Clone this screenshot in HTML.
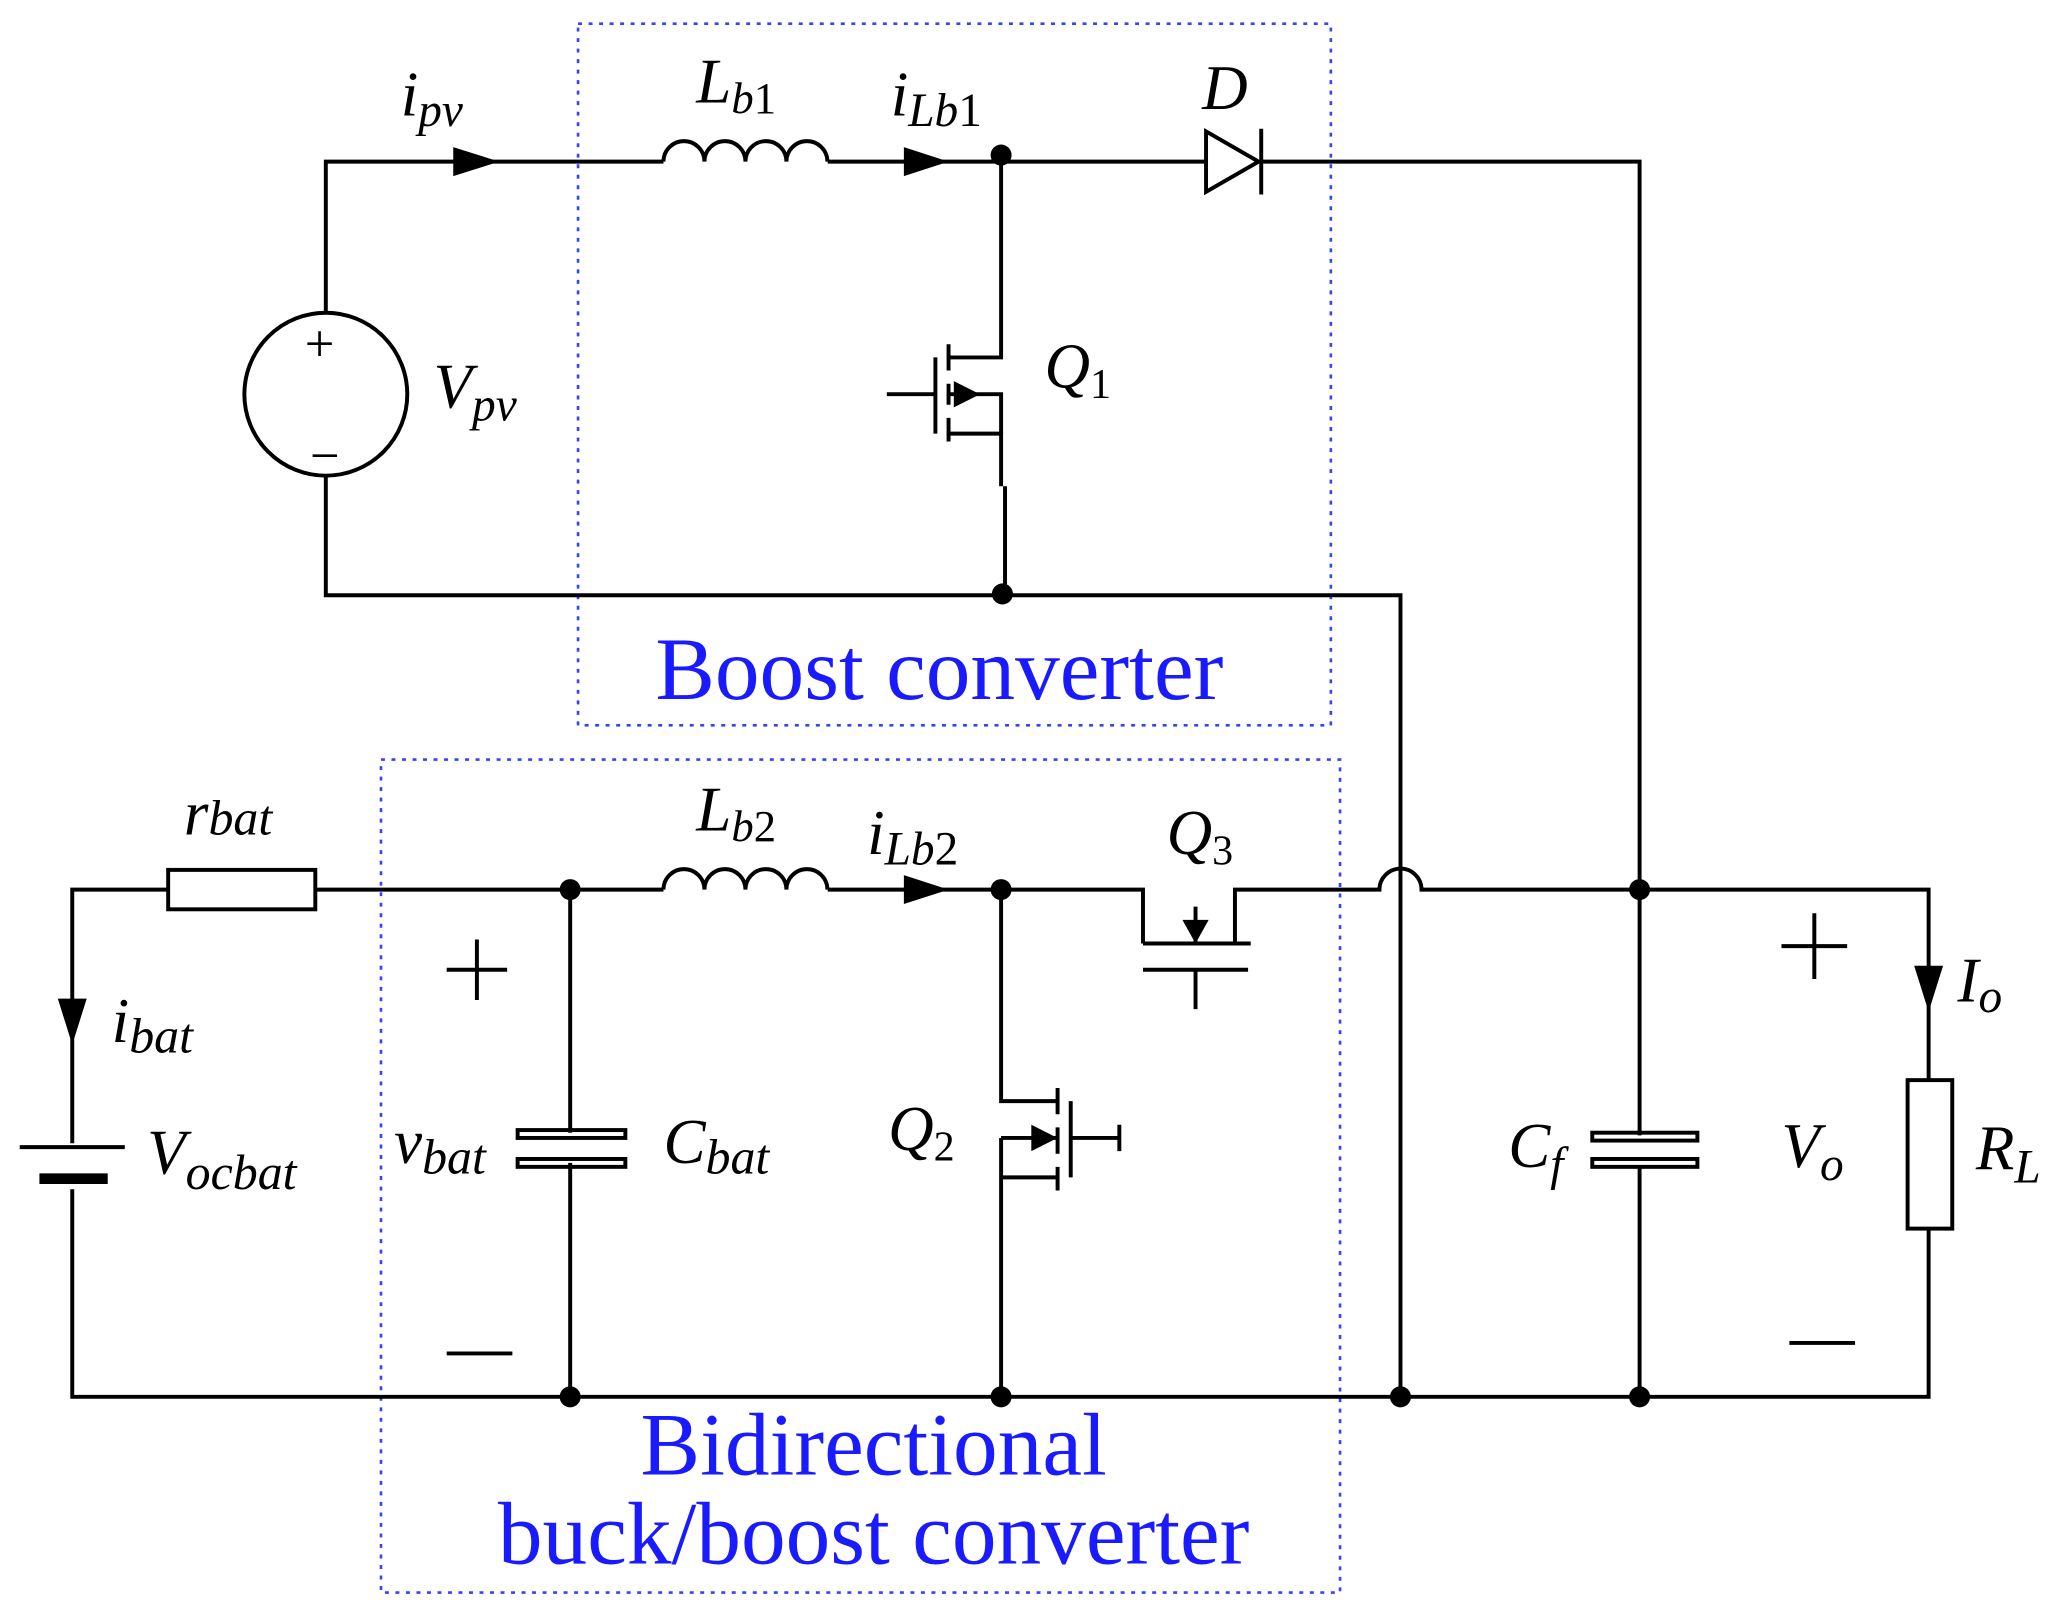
<!DOCTYPE html>
<html><head><meta charset="utf-8"><style>
html,body{margin:0;padding:0;background:#fff;}
svg{display:block;}
text{font-family:"Liberation Serif",serif;font-style:italic;fill:#000;}
.b{font-style:normal;fill:#1a1aff;}
</style></head><body>
<svg width="2060" height="1611" viewBox="0 0 1568 1226" preserveAspectRatio="none" xmlns="http://www.w3.org/2000/svg">
<g fill="none" stroke="#000" stroke-width="3">
<rect x="440" y="18" width="573" height="534" stroke="#3344ff" stroke-width="2" stroke-dasharray="3,5"/>
<rect x="290" y="578" width="730" height="634" stroke="#3344ff" stroke-width="2" stroke-dasharray="3,5"/>
<path d="M248 238 V123 H505"/>
<path d="M505 123 a15.6 15.6 0 0 1 31.2 0 a15.6 15.6 0 0 1 31.2 0 a15.6 15.6 0 0 1 31.2 0 a15.6 15.6 0 0 1 31.2 0"/>
<path d="M630 123 H918 M960 123 H1248 V677"/>
<path d="M918 100 V146 L958 123 Z"/><path d="M960 98 V148"/>
<circle cx="248" cy="300" r="62"/>
<path d="M248 362 V453 H1066 V1063"/>
<path d="M762 118 V272 H722 M722 262 V282 M722 292 V308 M722 318 V336 M722 330 H762 V370 M765 370 V452"/>
<path d="M722 300 H762 V330"/>
<path d="M712 272 V330 M675 300 H712"/>
<path d="M55 870 V677 H128 M240 677 H505"/>
<rect x="128" y="662" width="112" height="30"/>
<path d="M505 677 a15.6 15.6 0 0 1 31.2 0 a15.6 15.6 0 0 1 31.2 0 a15.6 15.6 0 0 1 31.2 0 a15.6 15.6 0 0 1 31.2 0"/>
<path d="M630 677 H870 V718 M940 718 V677 H1050 a16 16 0 0 1 32 0 H1468 V822"/>
<path d="M870 718 H952"/>
<path d="M910 690 V718 M870 738 H950 M910 738 V768"/>
<path d="M15 873 H95" />
<path d="M30 897 H82" stroke-width="8"/>
<path d="M55 905 V1063 H1468 V935"/>
<rect x="1452" y="822" width="34" height="113"/>
<path d="M434 677 V862 M434 885 V1063"/>
<rect x="394" y="860" width="82" height="6"/><rect x="394" y="882" width="82" height="6"/>
<path d="M1248 677 V864 M1248 887 V1063"/>
<rect x="1212" y="862" width="80" height="6"/><rect x="1212" y="882" width="80" height="6"/>
<path d="M762 677 V838 H805 M805 828 V848 M805 858 V878 M805 888 V906 M762 1063 V896 H805 M762 866 H805 M762 866 V896"/>
<path d="M815 838 V896 M815 866 H852 M852 856 V876"/>
</g>
<g fill="#000">
<circle cx="762" cy="118" r="8"/><circle cx="763" cy="452" r="8"/>
<circle cx="434" cy="677" r="8"/><circle cx="762" cy="677" r="8"/><circle cx="1248" cy="677" r="8"/>
<circle cx="434" cy="1063" r="8"/><circle cx="762" cy="1063" r="8"/><circle cx="1066" cy="1063" r="8"/><circle cx="1248" cy="1063" r="8"/>
<path d="M345 112 L380 123 L345 134 Z"/>
<path d="M688 112 L722 123 L688 134 Z"/>
<path d="M688 666 L722 677 L688 688 Z"/>
<path d="M44 760 L55 795 L66 760 Z"/>
<path d="M1457 735 L1468 770 L1479 735 Z"/>
<path d="M726 290 L746 300 L726 310 Z"/>
<path d="M900 700 L910 718 L920 700 Z"/>
<path d="M785 856 L805 866 L785 876 Z"/>
</g>
<g font-size="48">
<text x="305" y="88">i<tspan font-size="36" dy="8">pv</tspan></text>
<text x="530" y="78">L<tspan font-size="34" dy="8">b</tspan><tspan font-style="normal" font-size="34">1</tspan></text>
<text x="678" y="88">i<tspan font-size="36" dy="8">Lb</tspan><tspan font-style="normal" font-size="36">1</tspan></text>
<text x="915" y="83">D</text>
<text x="795" y="295">Q<tspan font-style="normal" font-size="32" dy="8">1</tspan></text>
<text x="330" y="310">V<tspan font-size="36" dy="10">pv</tspan></text>
<text x="140" y="635">r<tspan font-size="38" dy="0">bat</tspan></text>
<text x="530" y="632">L<tspan font-size="34" dy="8">b</tspan><tspan font-style="normal" font-size="34">2</tspan></text>
<text x="660" y="650">i<tspan font-size="36" dy="8">Lb</tspan><tspan font-style="normal" font-size="36">2</tspan></text>
<text x="888" y="650">Q<tspan font-style="normal" font-size="32" dy="8">3</tspan></text>
<text x="85" y="793">i<tspan font-size="38" dy="8">bat</tspan></text>
<text x="112" y="893">V<tspan font-size="38" dy="12">ocbat</tspan></text>
<text x="300" y="885">v<tspan font-size="38" dy="8">bat</tspan></text>
<text x="505" y="885">C<tspan font-size="38" dy="8">bat</tspan></text>
<text x="676" y="875">Q<tspan font-style="normal" font-size="32" dy="8">2</tspan></text>
<text x="1148" y="888">C<tspan font-size="36" dy="10">f</tspan></text>
<text x="1356" y="888">V<tspan font-size="36" dy="10">o</tspan></text>
<text x="1490" y="762">I<tspan font-size="36" dy="8">o</tspan></text>
<text x="1504" y="890">R<tspan font-size="36" dy="10">L</tspan></text>
</g>
<g font-family="Liberation Sans" font-size="40" style="font-style:normal">
<text x="232" y="275" style="font-style:normal">+</text>
<text x="236" y="360" style="font-style:normal">−</text>
</g>
<g stroke="#000" stroke-width="3">
<path d="M340 738 H386 M363 715 V761"/>
<path d="M340 1030 H390"/>
<path d="M1356 720 H1406 M1381 695 V745"/>
<path d="M1362 1022 H1412"/>
</g>
<g font-size="68">
<text class="b" x="715" y="532" text-anchor="middle">Boost converter</text>
<text class="b" x="665" y="1122" text-anchor="middle">Bidirectional</text>
<text class="b" x="665" y="1190" text-anchor="middle">buck/boost converter</text>
</g>
</svg>
</body></html>
